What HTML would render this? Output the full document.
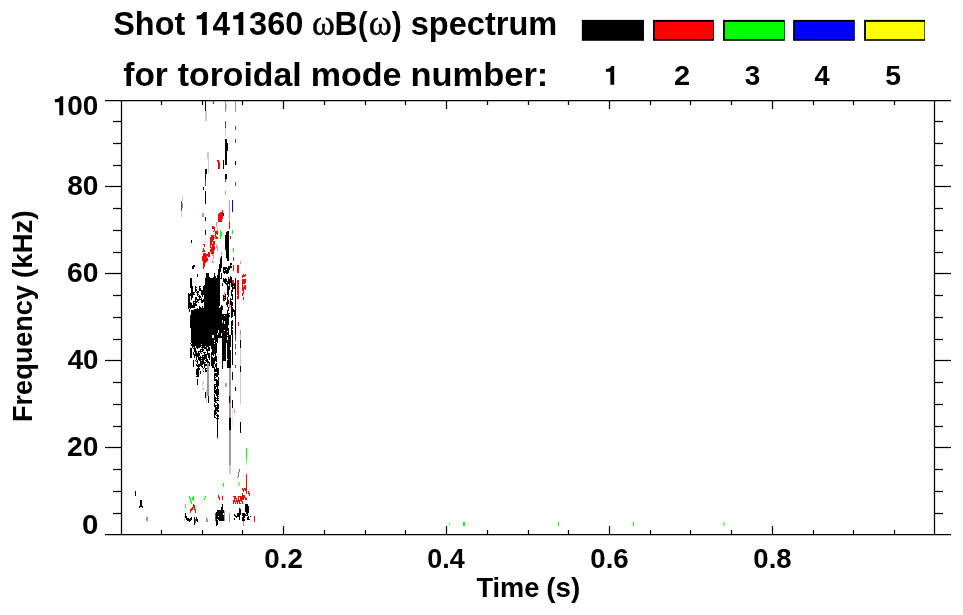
<!DOCTYPE html>
<html><head><meta charset="utf-8"><title>Shot 141360 spectrum</title>
<style>
html,body{margin:0;padding:0;background:#fff;}
body{width:963px;height:615px;overflow:hidden;}
svg{display:block;will-change:transform;}
text{font-family:"Liberation Sans",sans-serif;font-weight:bold;font-size:100px;fill:#000;}
text.sym{font-family:"Liberation Serif",serif;font-weight:normal;stroke:#000;stroke-width:1.4px;stroke-linejoin:round;}
#axes line{stroke:#000;stroke-width:1.25;}
</style></head>
<body>
<svg width="963" height="615" viewBox="0 0 963 615">
<rect width="963" height="615" fill="#fff"/>
<g id="data" shape-rendering="crispEdges">
<path fill="#000" d="M135 491h1v5h-1zM139 506h1v2h-1zM140 500h1v7h-1zM141 500h1v7h-1zM142 506h1v2h-1zM185 513h1v5h-1zM186 516h1v4h-1zM187 518h1v3h-1zM188 293h1v16h-1zM188 518h1v3h-1zM189 294h1v14h-1zM189 309h1v3h-1zM189 519h1v3h-1zM190 278h1v10h-1zM190 293h1v3h-1zM190 302h1v7h-1zM190 315h1v13h-1zM190 343h1v1h-1zM190 348h1v10h-1zM190 518h1v3h-1zM191 240h1v3h-1zM191 278h1v22h-1zM191 303h1v5h-1zM191 310h1v33h-1zM191 344h1v2h-1zM191 348h1v10h-1zM191 517h1v3h-1zM192 266h1v3h-1zM192 286h1v12h-1zM192 305h1v3h-1zM192 310h1v38h-1zM193 265h1v4h-1zM193 292h1v3h-1zM193 301h1v7h-1zM193 310h1v37h-1zM193 348h1v1h-1zM193 352h1v3h-1zM193 360h1v7h-1zM194 265h1v2h-1zM194 292h1v1h-1zM194 294h1v1h-1zM194 301h1v1h-1zM194 303h1v5h-1zM194 309h1v43h-1zM194 354h1v4h-1zM194 517h1v8h-1zM195 286h1v6h-1zM195 297h1v9h-1zM195 309h1v37h-1zM195 348h1v8h-1zM195 360h1v1h-1zM196 287h1v1h-1zM196 289h1v2h-1zM196 292h1v1h-1zM196 297h1v3h-1zM196 301h1v2h-1zM196 304h1v2h-1zM196 309h1v39h-1zM196 351h1v9h-1zM196 361h1v1h-1zM196 364h1v2h-1zM196 369h1v6h-1zM196 376h1v1h-1zM196 517h1v4h-1zM197 274h1v3h-1zM197 291h1v5h-1zM197 299h1v3h-1zM197 308h1v41h-1zM197 353h1v4h-1zM197 360h1v4h-1zM197 365h1v2h-1zM197 368h1v9h-1zM197 379h1v6h-1zM197 519h1v3h-1zM198 291h1v2h-1zM198 294h1v1h-1zM198 296h1v1h-1zM198 299h1v2h-1zM198 302h1v1h-1zM198 309h1v39h-1zM198 351h1v9h-1zM198 364h1v13h-1zM199 286h1v5h-1zM199 295h1v5h-1zM199 306h1v42h-1zM199 351h1v1h-1zM199 353h1v3h-1zM199 357h1v4h-1zM199 364h1v3h-1zM199 368h1v2h-1zM200 286h1v1h-1zM200 288h1v3h-1zM200 296h1v2h-1zM200 299h1v1h-1zM200 307h1v40h-1zM200 349h1v4h-1zM200 356h1v10h-1zM200 371h1v3h-1zM201 290h1v5h-1zM201 298h1v5h-1zM201 308h1v36h-1zM201 345h1v1h-1zM201 347h1v1h-1zM201 349h1v1h-1zM201 351h1v1h-1zM201 353h1v1h-1zM201 357h1v1h-1zM201 359h1v1h-1zM201 361h1v6h-1zM202 290h1v7h-1zM202 300h1v3h-1zM202 306h1v46h-1zM202 355h1v10h-1zM202 366h1v2h-1zM203 187h1v3h-1zM203 286h1v9h-1zM203 299h1v3h-1zM203 308h1v40h-1zM203 349h1v2h-1zM203 352h1v1h-1zM203 355h1v1h-1zM203 357h1v7h-1zM203 368h1v1h-1zM203 371h1v1h-1zM204 285h1v64h-1zM204 352h1v8h-1zM204 362h1v6h-1zM205 101h1v10h-1zM205 169h1v10h-1zM205 191h1v13h-1zM205 217h1v4h-1zM205 230h1v5h-1zM205 278h1v68h-1zM205 347h1v2h-1zM205 352h1v1h-1zM205 354h1v5h-1zM205 360h1v1h-1zM205 362h1v1h-1zM205 364h1v2h-1zM205 368h1v4h-1zM205 392h1v6h-1zM206 169h1v5h-1zM206 273h1v78h-1zM206 354h1v8h-1zM206 364h1v2h-1zM206 368h1v1h-1zM206 370h1v2h-1zM207 273h1v74h-1zM207 349h1v6h-1zM207 359h1v4h-1zM208 273h1v78h-1zM208 353h1v5h-1zM208 361h1v2h-1zM208 396h1v7h-1zM209 277h1v69h-1zM209 347h1v4h-1zM209 353h1v7h-1zM209 362h1v4h-1zM210 278h1v68h-1zM211 278h1v71h-1zM211 352h1v14h-1zM212 278h1v57h-1zM212 338h1v17h-1zM212 357h1v11h-1zM213 277h1v58h-1zM213 338h1v18h-1zM213 358h1v10h-1zM214 273h1v67h-1zM214 342h1v1h-1zM214 344h1v10h-1zM214 357h1v7h-1zM214 367h1v5h-1zM214 373h1v8h-1zM214 384h1v9h-1zM214 394h1v8h-1zM214 403h1v4h-1zM214 410h1v8h-1zM215 276h1v85h-1zM215 364h1v3h-1zM215 369h1v3h-1zM215 373h1v3h-1zM215 377h1v1h-1zM215 379h1v2h-1zM215 384h1v1h-1zM215 386h1v3h-1zM215 390h1v4h-1zM215 397h1v6h-1zM215 405h1v10h-1zM215 417h1v1h-1zM216 278h1v64h-1zM216 343h1v10h-1zM216 356h1v6h-1zM216 363h1v9h-1zM216 373h1v4h-1zM216 379h1v8h-1zM216 389h1v7h-1zM216 398h1v1h-1zM216 400h1v1h-1zM216 402h1v1h-1zM216 405h1v1h-1zM216 407h1v4h-1zM216 412h1v2h-1zM216 415h1v1h-1zM216 418h1v1h-1zM216 512h1v14h-1zM217 275h1v58h-1zM217 335h1v8h-1zM217 368h1v9h-1zM217 380h1v21h-1zM217 403h1v9h-1zM217 414h1v24h-1zM217 510h1v9h-1zM217 520h1v5h-1zM218 269h1v61h-1zM218 333h1v5h-1zM218 368h1v7h-1zM218 377h1v9h-1zM218 389h1v6h-1zM218 396h1v1h-1zM218 398h1v1h-1zM218 400h1v1h-1zM218 404h1v5h-1zM218 410h1v2h-1zM218 415h1v2h-1zM218 418h1v1h-1zM218 510h1v6h-1zM218 517h1v3h-1zM219 264h1v42h-1zM219 308h1v30h-1zM219 510h1v11h-1zM220 258h1v14h-1zM220 278h1v1h-1zM220 307h1v31h-1zM220 510h1v11h-1zM221 256h1v12h-1zM221 273h1v6h-1zM221 305h1v28h-1zM221 336h1v2h-1zM221 507h1v14h-1zM222 283h1v3h-1zM222 306h1v4h-1zM222 314h1v6h-1zM222 323h1v46h-1zM222 504h1v17h-1zM223 160h1v9h-1zM223 267h1v6h-1zM223 278h1v4h-1zM223 295h1v6h-1zM223 314h1v47h-1zM223 510h1v3h-1zM223 515h1v6h-1zM224 267h1v3h-1zM224 271h1v3h-1zM224 279h1v4h-1zM224 296h1v1h-1zM224 298h1v1h-1zM224 300h1v1h-1zM224 314h1v1h-1zM224 316h1v5h-1zM224 324h1v6h-1zM224 331h1v30h-1zM225 139h1v26h-1zM225 174h1v5h-1zM225 235h1v15h-1zM225 267h1v6h-1zM225 278h1v6h-1zM225 294h1v6h-1zM225 314h1v47h-1zM226 139h1v26h-1zM226 174h1v5h-1zM226 232h1v26h-1zM226 267h1v2h-1zM226 270h1v4h-1zM226 279h1v3h-1zM226 283h1v2h-1zM226 302h1v3h-1zM226 314h1v29h-1zM227 143h1v8h-1zM227 231h1v30h-1zM227 268h1v6h-1zM227 281h1v14h-1zM227 297h1v10h-1zM227 310h1v21h-1zM227 332h1v3h-1zM227 336h1v1h-1zM227 340h1v19h-1zM227 360h1v8h-1zM228 231h1v30h-1zM228 266h1v7h-1zM228 277h1v7h-1zM228 286h1v11h-1zM228 300h1v4h-1zM228 307h1v4h-1zM228 313h1v12h-1zM228 328h1v40h-1zM229 266h1v4h-1zM229 279h1v11h-1zM229 313h1v1h-1zM229 315h1v2h-1zM229 335h1v33h-1zM229 396h1v7h-1zM229 418h1v12h-1zM230 263h1v5h-1zM230 276h1v7h-1zM230 298h1v7h-1zM230 335h1v12h-1zM230 350h1v18h-1zM230 418h1v12h-1zM231 263h1v2h-1zM231 266h1v2h-1zM231 277h1v10h-1zM231 290h1v6h-1zM231 299h1v1h-1zM231 301h1v17h-1zM231 321h1v14h-1zM232 283h1v9h-1zM232 294h1v6h-1zM232 302h1v4h-1zM232 307h1v10h-1zM232 320h1v6h-1zM232 327h1v2h-1zM232 330h1v35h-1zM232 372h1v8h-1zM232 400h1v8h-1zM233 284h1v2h-1zM233 287h1v2h-1zM233 309h1v3h-1zM234 283h1v6h-1zM234 310h1v6h-1zM234 514h1v2h-1zM234 518h1v2h-1zM235 161h1v4h-1zM235 278h1v57h-1zM235 337h1v1h-1zM235 387h1v4h-1zM235 515h1v2h-1zM236 516h1v2h-1zM237 513h1v4h-1zM238 513h1v4h-1zM239 508h1v12h-1zM240 340h1v8h-1zM240 366h1v6h-1zM240 422h1v11h-1zM240 509h1v6h-1zM242 513h1v3h-1zM242 517h1v4h-1zM243 513h1v8h-1zM244 513h1v5h-1zM244 519h1v2h-1zM245 504h1v8h-1zM245 514h1v2h-1zM246 504h1v10h-1zM246 515h1v1h-1zM247 504h1v12h-1zM247 517h1v3h-1zM248 506h1v7h-1zM248 516h1v4h-1zM249 519h1v1h-1zM250 516h1v1h-1z"/>
<path fill="#ccc" d="M181 211h1v6h-1zM182 196h1v5h-1zM184 516h1v5h-1zM202 369h1v2h-1zM202 381h1v4h-1zM202 388h1v2h-1zM203 369h1v2h-1zM203 381h1v1h-1zM203 383h1v1h-1zM203 385h1v1h-1zM203 388h1v2h-1zM205 111h1v10h-1zM206 111h1v10h-1zM206 390h1v13h-1zM207 152h1v7h-1zM208 152h1v21h-1zM225 128h1v7h-1zM226 104h1v6h-1zM229 465h1v9h-1zM230 465h1v9h-1zM240 335h1v5h-1zM240 348h1v18h-1zM240 372h1v32h-1z"/>
<path fill="#f00" d="M190 509h1v4h-1zM191 508h1v3h-1zM192 507h1v3h-1zM193 504h1v4h-1zM194 505h1v5h-1zM195 509h1v4h-1zM202 251h1v1h-1zM202 256h1v5h-1zM203 244h1v1h-1zM203 248h1v4h-1zM203 253h1v16h-1zM204 244h1v3h-1zM204 250h1v2h-1zM204 253h1v14h-1zM205 253h1v10h-1zM206 254h1v8h-1zM207 254h1v2h-1zM207 258h1v3h-1zM208 252h1v5h-1zM209 252h1v5h-1zM210 237h1v11h-1zM210 249h1v3h-1zM211 235h1v10h-1zM211 247h1v7h-1zM212 226h1v3h-1zM212 235h1v7h-1zM212 244h1v10h-1zM213 101h1v3h-1zM213 226h1v3h-1zM213 231h1v1h-1zM213 235h1v5h-1zM213 241h1v13h-1zM214 227h1v4h-1zM214 237h1v1h-1zM214 241h1v4h-1zM214 246h1v4h-1zM215 231h1v6h-1zM215 238h1v1h-1zM216 231h1v3h-1zM216 236h1v3h-1zM217 160h1v2h-1zM217 231h1v4h-1zM217 237h1v2h-1zM218 160h1v9h-1zM218 214h1v8h-1zM218 495h1v3h-1zM219 162h1v7h-1zM219 213h1v9h-1zM219 497h1v3h-1zM220 212h1v10h-1zM221 212h1v10h-1zM222 210h1v9h-1zM222 496h1v4h-1zM229 222h1v7h-1zM230 236h1v3h-1zM232 280h1v3h-1zM233 265h1v6h-1zM233 280h1v4h-1zM233 496h1v1h-1zM233 500h1v4h-1zM234 496h1v6h-1zM235 496h1v3h-1zM235 501h1v3h-1zM236 498h1v4h-1zM237 265h1v8h-1zM237 280h1v15h-1zM237 296h1v3h-1zM237 500h1v4h-1zM238 265h1v8h-1zM238 280h1v19h-1zM238 322h1v4h-1zM238 496h1v6h-1zM239 496h1v1h-1zM239 500h1v4h-1zM240 496h1v5h-1zM240 503h1v1h-1zM241 496h1v6h-1zM242 275h1v3h-1zM242 279h1v12h-1zM242 293h1v3h-1zM242 488h1v2h-1zM242 493h1v7h-1zM242 501h1v3h-1zM243 274h1v3h-1zM243 279h1v5h-1zM243 287h1v7h-1zM243 297h1v3h-1zM243 489h1v3h-1zM243 495h1v5h-1zM244 275h1v2h-1zM244 279h1v5h-1zM244 285h1v4h-1zM244 488h1v2h-1zM244 495h1v3h-1zM245 274h1v2h-1zM245 279h1v4h-1zM245 285h1v5h-1zM245 488h1v3h-1zM245 497h1v3h-1zM246 474h1v20h-1zM246 498h1v2h-1zM248 491h1v3h-1zM249 493h1v3h-1zM254 516h1v6h-1z"/>
<path fill="#999" d="M146 517h1v4h-1zM147 517h1v4h-1zM182 203h1v5h-1zM206 517h1v5h-1zM207 363h1v33h-1zM207 519h1v3h-1zM208 363h1v33h-1zM224 511h1v10h-1zM225 101h1v11h-1zM225 191h1v4h-1zM229 368h1v28h-1zM229 403h1v15h-1zM229 430h1v35h-1zM229 513h1v9h-1zM230 368h1v50h-1zM230 430h1v35h-1zM235 101h1v11h-1zM240 330h1v5h-1zM243 521h1v5h-1z"/>
<path fill="#555" d="M181 201h1v10h-1zM195 519h1v4h-1zM205 179h1v7h-1zM215 513h1v8h-1zM225 121h1v7h-1zM225 179h1v3h-1zM233 257h1v4h-1zM235 126h1v4h-1zM235 139h1v4h-1zM235 182h1v4h-1zM235 335h1v2h-1zM235 338h1v3h-1zM235 344h1v5h-1zM235 352h1v3h-1zM235 365h1v3h-1z"/>
<path fill="#f88" d="M185 504h1v4h-1zM212 254h1v2h-1zM212 260h1v3h-1zM213 254h1v5h-1zM213 262h1v1h-1zM216 222h1v5h-1zM216 244h1v4h-1zM217 222h1v1h-1zM217 228h1v3h-1zM217 246h1v5h-1zM221 252h1v3h-1zM224 292h1v4h-1zM224 297h1v1h-1zM224 299h1v1h-1zM229 200h1v22h-1zM229 301h1v7h-1zM230 305h1v3h-1zM234 409h1v4h-1zM240 261h1v3h-1z"/>
<path fill="#00f" d="M223 213h1v3h-1zM232 200h1v12h-1z"/>
<path fill="#99f" d="M202 213h1v4h-1zM203 213h1v4h-1zM225 383h1v4h-1zM226 383h1v4h-1z"/>
<path fill="#0f0" d="M189 496h1v3h-1zM190 498h1v4h-1zM191 501h1v3h-1zM192 497h1v3h-1zM193 496h1v5h-1zM204 498h1v2h-1zM205 496h1v2h-1zM220 230h1v9h-1zM221 232h1v4h-1zM223 483h1v4h-1zM232 230h1v4h-1zM233 248h1v4h-1zM246 448h1v11h-1zM463 522h1v4h-1zM464 522h1v4h-1zM558 522h1v4h-1zM633 522h1v4h-1z"/>
<path fill="#fdd" d="M232 408h1v18h-1z"/>
<path fill="#8f8" d="M238 482h1v4h-1zM239 482h1v4h-1zM246 459h1v6h-1zM449 522h1v4h-1zM723 522h1v4h-1zM724 522h1v4h-1z"/>
<path fill="#66f" d="M237 477h1v1h-1zM238 472h1v5h-1zM239 469h1v3h-1z"/>
</g>
<g id="axes">
<line x1="105.00" y1="100.50" x2="951.00" y2="100.50"/>
<line x1="105.00" y1="534.50" x2="951.00" y2="534.50"/>
<line x1="121.50" y1="100.50" x2="121.50" y2="534.50"/>
<line x1="934.50" y1="100.50" x2="934.50" y2="534.50"/>
<line x1="113.00" y1="513.50" x2="121.50" y2="513.50"/>
<line x1="934.50" y1="513.50" x2="943.00" y2="513.50"/>
<line x1="113.00" y1="491.50" x2="121.50" y2="491.50"/>
<line x1="934.50" y1="491.50" x2="943.00" y2="491.50"/>
<line x1="113.00" y1="469.50" x2="121.50" y2="469.50"/>
<line x1="934.50" y1="469.50" x2="943.00" y2="469.50"/>
<line x1="105.00" y1="447.50" x2="121.50" y2="447.50"/>
<line x1="934.50" y1="447.50" x2="951.00" y2="447.50"/>
<line x1="113.00" y1="426.50" x2="121.50" y2="426.50"/>
<line x1="934.50" y1="426.50" x2="943.00" y2="426.50"/>
<line x1="113.00" y1="404.50" x2="121.50" y2="404.50"/>
<line x1="934.50" y1="404.50" x2="943.00" y2="404.50"/>
<line x1="113.00" y1="382.50" x2="121.50" y2="382.50"/>
<line x1="934.50" y1="382.50" x2="943.00" y2="382.50"/>
<line x1="105.00" y1="360.50" x2="121.50" y2="360.50"/>
<line x1="934.50" y1="360.50" x2="951.00" y2="360.50"/>
<line x1="113.00" y1="339.50" x2="121.50" y2="339.50"/>
<line x1="934.50" y1="339.50" x2="943.00" y2="339.50"/>
<line x1="113.00" y1="317.50" x2="121.50" y2="317.50"/>
<line x1="934.50" y1="317.50" x2="943.00" y2="317.50"/>
<line x1="113.00" y1="295.50" x2="121.50" y2="295.50"/>
<line x1="934.50" y1="295.50" x2="943.00" y2="295.50"/>
<line x1="105.00" y1="273.50" x2="121.50" y2="273.50"/>
<line x1="934.50" y1="273.50" x2="951.00" y2="273.50"/>
<line x1="113.00" y1="252.50" x2="121.50" y2="252.50"/>
<line x1="934.50" y1="252.50" x2="943.00" y2="252.50"/>
<line x1="113.00" y1="230.50" x2="121.50" y2="230.50"/>
<line x1="934.50" y1="230.50" x2="943.00" y2="230.50"/>
<line x1="113.00" y1="208.50" x2="121.50" y2="208.50"/>
<line x1="934.50" y1="208.50" x2="943.00" y2="208.50"/>
<line x1="105.00" y1="186.50" x2="121.50" y2="186.50"/>
<line x1="934.50" y1="186.50" x2="951.00" y2="186.50"/>
<line x1="113.00" y1="165.50" x2="121.50" y2="165.50"/>
<line x1="934.50" y1="165.50" x2="943.00" y2="165.50"/>
<line x1="113.00" y1="143.50" x2="121.50" y2="143.50"/>
<line x1="934.50" y1="143.50" x2="943.00" y2="143.50"/>
<line x1="113.00" y1="121.50" x2="121.50" y2="121.50"/>
<line x1="934.50" y1="121.50" x2="943.00" y2="121.50"/>
<line x1="161.50" y1="100.50" x2="161.50" y2="105.00"/>
<line x1="161.50" y1="534.50" x2="161.50" y2="530.00"/>
<line x1="202.50" y1="100.50" x2="202.50" y2="105.00"/>
<line x1="202.50" y1="534.50" x2="202.50" y2="530.00"/>
<line x1="242.50" y1="100.50" x2="242.50" y2="105.00"/>
<line x1="242.50" y1="534.50" x2="242.50" y2="530.00"/>
<line x1="283.50" y1="100.50" x2="283.50" y2="109.00"/>
<line x1="283.50" y1="534.50" x2="283.50" y2="526.00"/>
<line x1="324.50" y1="100.50" x2="324.50" y2="105.00"/>
<line x1="324.50" y1="534.50" x2="324.50" y2="530.00"/>
<line x1="365.50" y1="100.50" x2="365.50" y2="105.00"/>
<line x1="365.50" y1="534.50" x2="365.50" y2="530.00"/>
<line x1="405.50" y1="100.50" x2="405.50" y2="105.00"/>
<line x1="405.50" y1="534.50" x2="405.50" y2="530.00"/>
<line x1="446.50" y1="100.50" x2="446.50" y2="109.00"/>
<line x1="446.50" y1="534.50" x2="446.50" y2="526.00"/>
<line x1="487.50" y1="100.50" x2="487.50" y2="105.00"/>
<line x1="487.50" y1="534.50" x2="487.50" y2="530.00"/>
<line x1="528.50" y1="100.50" x2="528.50" y2="105.00"/>
<line x1="528.50" y1="534.50" x2="528.50" y2="530.00"/>
<line x1="568.50" y1="100.50" x2="568.50" y2="105.00"/>
<line x1="568.50" y1="534.50" x2="568.50" y2="530.00"/>
<line x1="609.50" y1="100.50" x2="609.50" y2="109.00"/>
<line x1="609.50" y1="534.50" x2="609.50" y2="526.00"/>
<line x1="650.50" y1="100.50" x2="650.50" y2="105.00"/>
<line x1="650.50" y1="534.50" x2="650.50" y2="530.00"/>
<line x1="690.50" y1="100.50" x2="690.50" y2="105.00"/>
<line x1="690.50" y1="534.50" x2="690.50" y2="530.00"/>
<line x1="731.50" y1="100.50" x2="731.50" y2="105.00"/>
<line x1="731.50" y1="534.50" x2="731.50" y2="530.00"/>
<line x1="772.50" y1="100.50" x2="772.50" y2="109.00"/>
<line x1="772.50" y1="534.50" x2="772.50" y2="526.00"/>
<line x1="813.50" y1="100.50" x2="813.50" y2="105.00"/>
<line x1="813.50" y1="534.50" x2="813.50" y2="530.00"/>
<line x1="853.50" y1="100.50" x2="853.50" y2="105.00"/>
<line x1="853.50" y1="534.50" x2="853.50" y2="530.00"/>
<line x1="894.50" y1="100.50" x2="894.50" y2="105.00"/>
<line x1="894.50" y1="534.50" x2="894.50" y2="530.00"/>
</g>
<g id="legend">
<rect x="581.85" y="19.9" width="62.10" height="20.9" fill="#000"/>
<rect x="653.00" y="19.9" width="60.85" height="20.9" fill="#000"/>
<rect x="654.90" y="21.85" width="58.30" height="17.35" fill="#f00"/>
<rect x="723.05" y="19.9" width="61.75" height="20.9" fill="#000"/>
<rect x="724.95" y="21.85" width="59.20" height="17.35" fill="#0f0"/>
<rect x="793.10" y="19.9" width="61.70" height="20.9" fill="#000"/>
<rect x="795.00" y="21.85" width="59.15" height="17.35" fill="#00f"/>
<rect x="864.10" y="19.9" width="60.90" height="20.9" fill="#000"/>
<rect x="866.00" y="21.85" width="58.35" height="17.35" fill="#ff0"/>
</g>
<g id="labels">
<path d="M206.80 35.00L206.80 11.89L203.35 11.89C202.48 14.23 200.13 15.57 196.68 15.57L196.68 19.15L202.06 19.15L202.06 35.00Z" fill="#000"/>
<path d="M243.30 35.00L243.30 11.89L239.85 11.89C238.98 14.23 236.63 15.57 233.18 15.57L233.18 19.15L238.56 19.15L238.56 35.00Z" fill="#000"/>
<path d="M63.20 115.20L63.20 96.16L60.36 96.16C59.64 98.09 57.71 99.19 54.86 99.19L54.86 102.15L59.29 102.15L59.29 115.20Z" fill="#000"/>
<path d="M614.20 84.75L614.20 65.91L611.39 65.91C610.68 67.82 608.77 68.92 605.96 68.92L605.96 71.84L610.34 71.84L610.34 84.75Z" fill="#000"/>
<text transform="translate(113.23,35.20) scale(0.3242,0.3300)">Shot</text>
<text transform="translate(212.58,35.20) scale(0.3150,0.3300)">4</text>
<text transform="translate(249.07,35.20) scale(0.3259,0.3300)">360</text>
<text class="sym" transform="translate(312.11,34.90) scale(0.3466,0.3650)">ω</text>
<text transform="translate(334.43,35.20) scale(0.3213,0.3300)">B</text>
<text transform="translate(357.97,35.20) scale(0.2857,0.3300)">(</text>
<text class="sym" transform="translate(368.70,34.90) scale(0.3500,0.3650)">ω</text>
<text transform="translate(391.82,35.20) scale(0.3000,0.3300)">)</text>
<text transform="translate(410.66,35.20) scale(0.3258,0.3300)">spectrum</text>
<text transform="translate(123.32,85.65) scale(0.3340,0.3360)">for</text>
<text transform="translate(177.78,85.65) scale(0.3381,0.3360)">toroidal</text>
<text transform="translate(310.69,85.65) scale(0.3404,0.3360)">mode</text>
<text transform="translate(410.46,85.65) scale(0.3448,0.3360)">number:</text>
<text transform="translate(67.11,456.20) scale(0.2821,0.2830)">20</text>
<text transform="translate(67.68,369.20) scale(0.2768,0.2830)">40</text>
<text transform="translate(67.04,282.20) scale(0.2828,0.2830)">60</text>
<text transform="translate(67.19,195.20) scale(0.2814,0.2830)">80</text>
<text transform="translate(67.28,115.30) scale(0.2796,0.2830)">00</text>
<text transform="translate(82.12,533.90) scale(0.2947,0.2830)">0</text>
<text transform="translate(264.34,568.40) scale(0.2771,0.2830)">0.2</text>
<text transform="translate(427.37,568.40) scale(0.2699,0.2830)">0.4</text>
<text transform="translate(590.35,568.40) scale(0.2760,0.2830)">0.6</text>
<text transform="translate(753.35,568.40) scale(0.2750,0.2830)">0.8</text>
<text transform="translate(476.43,596.80) scale(0.2719,0.2820)">Time</text>
<text transform="translate(546.31,596.80) scale(0.2780,0.2820)">(s)</text>
<text transform="translate(31.60,421.93) rotate(-90) scale(0.2705,0.2840)">Frequency</text>
<text transform="translate(31.60,277.88) rotate(-90) scale(0.2763,0.2840)">(kHz)</text>
<text transform="translate(673.93,84.90) scale(0.2906,0.2830)">2</text>
<text transform="translate(744.87,84.90) scale(0.2794,0.2830)">3</text>
<text transform="translate(814.49,84.90) scale(0.2729,0.2830)">4</text>
<text transform="translate(885.15,84.90) scale(0.2834,0.2830)">5</text>
</g>
</svg>
</body></html>
